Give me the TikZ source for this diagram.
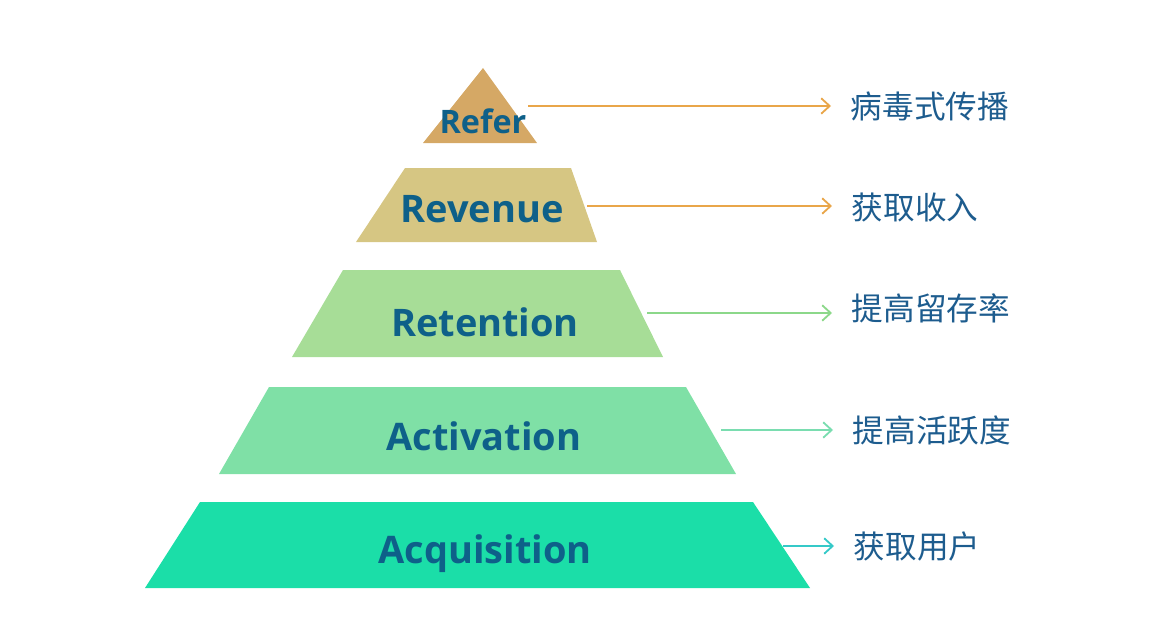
\documentclass[tikz,border=0pt]{standalone}
\usepackage{fontspec}
\setmainfont{Open Sans}
\newfontfamily\cjk{Noto Sans CJK SC}
\usetikzlibrary{arrows.meta}
\definecolor{referfill}{HTML}{D5A865}
\definecolor{revenuefill}{HTML}{D6C683}
\definecolor{retentionfill}{HTML}{A7DD97}
\definecolor{activationfill}{HTML}{7FE0A6}
\definecolor{acquisitionfill}{HTML}{1BDEA8}
\definecolor{orangearrow}{HTML}{E9A64A}
\definecolor{greenarrow}{HTML}{8CD88A}
\definecolor{mintarrow}{HTML}{7ADDB0}
\definecolor{cyanarrow}{HTML}{35C9C8}
\definecolor{labelblue}{HTML}{0E6089}
\definecolor{goalblue}{HTML}{1D5C8E}
\tikzset{
  layername/.style={anchor=base,inner sep=0pt,text=labelblue,font=\bfseries\fontsize{27}{31}\selectfont},
  goal/.style={anchor=west,inner xsep=14pt,inner ysep=0pt,text=goalblue,font=\cjk\fontsize{22.5}{26}\selectfont},
  goalarrow/.style={line width=1.3pt,-{Straight Barb[length=6pt,width=11pt]}}
}
\begin{document}
\begin{tikzpicture}[x=0.025cm,y=-0.025cm]
  \useasboundingbox (0,0) rectangle (1176,624);
  % Refer
  \fill[referfill] (483,68) -- (537,143) -- (423,143) -- cycle;
  \node[layername,font=\bfseries\fontsize{23}{27}\selectfont] (refer) at (483,134) {Refer};
  \coordinate (refer-out) at (528,106);
  \node[goal] (refer-goal) at (831,106) {病毒式传播};
  \draw[goalarrow,orangearrow] (refer-out) -- (refer-goal.west);
  % Revenue
  \fill[revenuefill] (405,168) -- (571,168) -- (597,242) -- (356,242) -- cycle;
  \node[layername] (revenue) at (482,222) {Revenue};
  \coordinate (revenue-out) at (587,206);
  \node[goal] (revenue-goal) at (832,208) {获取收入};
  \draw[goalarrow,orangearrow] (revenue-out) -- (revenue-goal.west |- revenue-out);
  % Retention
  \fill[retentionfill] (343,270) -- (620,270) -- (663,357) -- (292,357) -- cycle;
  \node[layername] (retention) at (485,336) {Retention};
  \coordinate (retention-out) at (647,313);
  \node[goal] (retention-goal) at (832,308) {提高留存率};
  \draw[goalarrow,greenarrow] (retention-out) -- (retention-goal.west |- retention-out);
  % Activation
  \fill[activationfill] (269,387) -- (686,387) -- (736,474) -- (219,474) -- cycle;
  \node[layername] (activation) at (484,450) {Activation};
  \coordinate (activation-out) at (721,430);
  \node[goal] (activation-goal) at (833,430) {提高活跃度};
  \draw[goalarrow,mintarrow] (activation-out) -- (activation-goal.west);
  % Acquisition
  \fill[acquisitionfill] (200,502) -- (753,502) -- (810,588) -- (145,588) -- cycle;
  \node[layername] (acquisition) at (485,563) {Acquisition};
  \coordinate (acquisition-out) at (783,546);
  \node[goal] (acquisition-goal) at (834,546) {获取用户};
  \draw[goalarrow,cyanarrow] (acquisition-out) -- (acquisition-goal.west);
\end{tikzpicture}
\end{document}
